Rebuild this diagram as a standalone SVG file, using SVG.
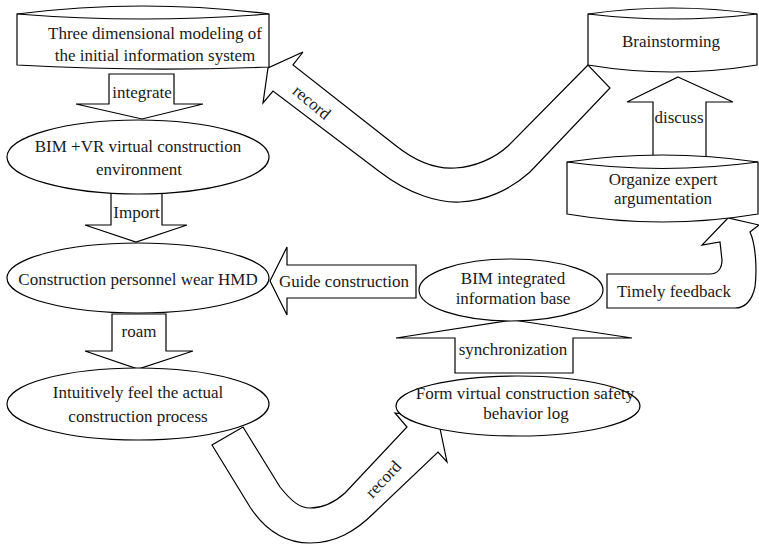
<svg xmlns="http://www.w3.org/2000/svg" width="759" height="547" viewBox="0 0 759 547">
<style>
.s{fill:#fff;stroke:#000;stroke-width:1.2;stroke-linejoin:miter}
.l{fill:none;stroke:#000;stroke-width:1.2}
text{font-family:'Liberation Serif','DejaVu Serif',serif;font-size:17px;fill:#1a1a1a;text-anchor:middle}
</style>
<rect width="759" height="547" fill="#fff"/>
<g id="connectors">
<path class="s" d="M588,65 L508,146 C495,158 475,167 455,168 C440,169 420,165 395,145 L293,65 L303,52 L268,68 L263,103 L273,91 L380,172 C410,195 440,203 460,202 C485,201 510,190 530,172 L610,88 Z"/>
<text transform="translate(312,102) rotate(40)" y="6">record</text>
<path class="s" d="M243,427 L280,487 C292,502 300,508 310,508 C322,508 335,502 345,493 L407,427 L395,413 L438,419 L447,462 L438,452 L375,512 C355,532 335,543 310,543 C285,543 265,530 250,507 L212,445 Z"/>
<text transform="translate(383,479) rotate(-47)" y="6">record</text>
<polygon class="s" points="109,74 174,74 174,104 203,104 142,119 76,104 109,104"/>
<text x="142" y="98">integrate</text>
<polygon class="s" points="111,188 162,188 162,225 187,225 136,242 85,225 111,225"/>
<text x="136.5" y="218">Import</text>
<polygon class="s" points="112,314 166,314 166,351 193,351 138,369 85,351 112,351"/>
<text x="139" y="337">roam</text>
<polygon class="s" points="270,281 287,247 287,265 416,265 416,298 287,298 287,315"/>
<text x="344" y="287">Guide construction</text>
<polygon class="s" points="678,77 733,102 706,102 706,160 653,160 653,102 627,102"/>
<text x="679" y="123">discuss</text>
<polygon class="s" points="513,320 632,338 573,338 573,373 455,373 455,338 396,338"/>
<text x="513" y="355">synchronization</text>
<path class="s" d="M607,274 L710,274 C718,274 722,268 722,260 L720,242 L702,245 L728,218 L759,225 L750,232 C756,245 757,270 755,287 C752,300 745,308 735,308 L607,308 Z"/>
<text x="674" y="297">Timely feedback</text>
</g>
<g id="node-3d-modeling">
<path class="s" d="M17,14 Q143,-2 269,14 L269,67 Q143,72 17,65 Z"/>
<path class="l" d="M17,14 Q143,24 269,14"/>
<text x="155" y="39">Three dimensional modeling of</text>
<text x="155" y="61">the initial information system</text>
</g>
<g id="node-bim-vr">
<ellipse class="s" cx="138" cy="157" rx="131" ry="37"/>
<text x="138" y="152">BIM +VR virtual construction</text>
<text x="139" y="175">environment</text>
</g>
<g id="node-hmd">
<ellipse class="s" cx="138" cy="278" rx="131" ry="35"/>
<text x="138" y="285">Construction personnel wear HMD</text>
</g>
<g id="node-intuitively">
<ellipse class="s" cx="138" cy="404" rx="131" ry="36"/>
<text x="138" y="398">Intuitively feel the actual</text>
<text x="138" y="422">construction process</text>
</g>
<g id="node-log">
<ellipse class="s" cx="518" cy="406" rx="122" ry="30"/>
<text x="525" y="399">Form virtual construction safety</text>
<text x="526" y="419">behavior log</text>
</g>
<g id="node-bim-base">
<ellipse class="s" cx="511" cy="290" rx="92" ry="31"/>
<text x="513" y="284">BIM integrated</text>
<text x="513" y="304">information base</text>
</g>
<g id="node-brainstorming">
<path class="s" d="M588,14 Q672,2 757,14 L757,65 Q672,79 588,65 Z"/>
<path class="l" d="M588,14 Q672,24 757,14"/>
<text x="671" y="47">Brainstorming</text>
</g>
<g id="node-organize">
<path class="s" d="M567,162 Q662,148 758,162 L758,214 Q662,230 567,214 Z"/>
<path class="l" d="M567,162 Q662,175 758,162"/>
<text x="663" y="185">Organize expert</text>
<text x="663" y="204">argumentation</text>
</g>
</svg>
